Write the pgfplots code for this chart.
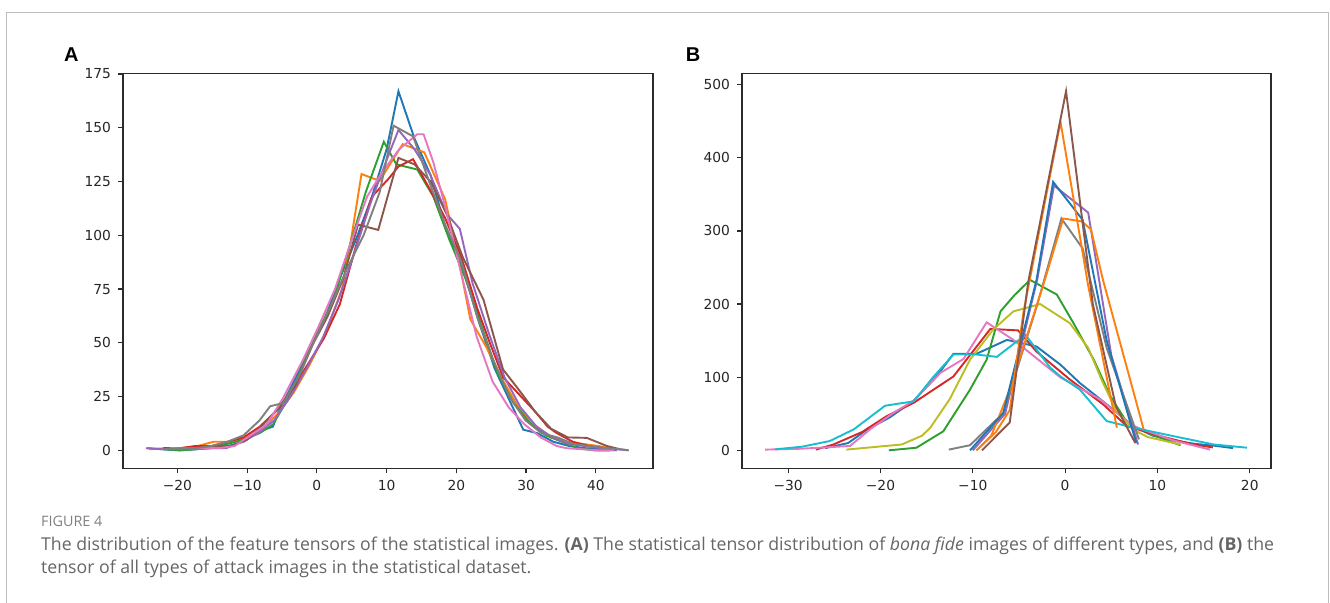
\documentclass[border=0pt]{standalone}
\usepackage{pgfplots}
\pgfplotsset{compat=1.18}
\usepackage{fontspec}
\setmainfont{Open Sans}
\newfontfamily\tickfont{DejaVu Sans}
\newfontfamily\panelfont{Liberation Sans}
\definecolor{c0}{HTML}{1F77B4}
\definecolor{c1}{HTML}{FF7F0E}
\definecolor{c2}{HTML}{2CA02C}
\definecolor{c3}{HTML}{D62728}
\definecolor{c4}{HTML}{9467BD}
\definecolor{c5}{HTML}{8C564B}
\definecolor{c6}{HTML}{E377C2}
\definecolor{c7}{HTML}{7F7F7F}
\definecolor{c8}{HTML}{BCBD22}
\definecolor{c9}{HTML}{17BECF}
\definecolor{framegray}{HTML}{BDBDBD}
\definecolor{capgray}{HTML}{666666}
\definecolor{axisdark}{HTML}{2B2B2B}

\pgfplotsset{panel/.style={
  scale only axis, anchor=north west,
  height=197.5pt,
  axis line style={axisdark, line width=0.6pt},
  tick align=outside, tick pos=left,
  major tick length=2.5pt,
  tick style={axisdark, line width=0.6pt},
  tick label style={font=\tickfont\fontsize{6.9pt}{8pt}\selectfont, text=black!85},
  every axis plot/.append style={line width=0.95pt, mark=none},
}}

\begin{document}
\begin{tikzpicture}
\useasboundingbox (0,0) rectangle (665pt,-301.5pt);
\draw[framegray, line width=0.75pt] (3.2pt,-305pt) -- (3.2pt,-6.35pt) -- (664.3pt,-6.35pt) -- (664.3pt,-305pt);

\node[anchor=west, inner sep=0, font=\panelfont\bfseries\fontsize{10pt}{12pt}\selectfont] at (31.8pt,-27.15pt) {A};
\node[anchor=west, inner sep=0, font=\panelfont\bfseries\fontsize{10pt}{12pt}\selectfont] at (342.7pt,-27.15pt) {B};

\begin{axis}[panel, at={(61.5pt,-36.65pt)}, width=265pt,
  xmin=-27.8, xmax=48.2, ymin=-8.35, ymax=175.35,
  xtick={-20,-10,0,10,20,30,40}, xticklabels={−20,−10,0,10,20,30,40},
  ytick={0,25,50,75,100,125,150,175}, yticklabels={0,25,50,75,100,125,150,175}]
\addplot[c0] coordinates {(-24.3,1) (-22,0.5) (-19.7,0) (-17.4,0.5) (-15.1,1) (-12.8,2) (-10.5,4) (-8.2,9) (-6.3,11) (-5.5,18) (-3.6,30) (-1.3,45) (1.0,60) (3.3,80) (5.6,98) (7.9,118) (10.0,140) (11.7,167) (14.0,145) (16.3,128) (18.6,102) (20.9,85) (23.2,60) (25.5,38) (27.8,22) (29.6,9.6) (31.6,8) (33.9,4) (36.2,2) (38.5,1) (40.8,0.5) (43,0)};
\addplot[c1] coordinates {(-24,0.5) (-21.7,1) (-19.4,1) (-17.1,2) (-14.8,4) (-12.5,4) (-10.2,6) (-7.9,10) (-5.6,17) (-3.3,27) (-1,40) (1.3,55) (3.6,75) (5.0,100) (6.4,128.5) (9.0,125.3) (12.3,142.4) (15.4,138.6) (18.4,116.7) (20.8,81) (22.0,61) (24.3,48) (26.6,33) (28.9,20) (31.2,12) (33.5,6) (35.8,4) (38.1,3) (40.4,2) (42.7,0.5)};
\addplot[c2] coordinates {(-22,0.5) (-19.7,0) (-17.4,0.5) (-15.1,2) (-12.8,3) (-10.5,5) (-8.2,8) (-6.3,12) (-4.5,22) (-2.2,38) (0.1,55) (2.4,70) (4.7,95) (7.0,120) (9.6,143.5) (11.4,133) (14.4,130.6) (16.7,118) (19.0,98) (21.3,80) (23.6,58) (25.9,36) (28.2,22) (30.5,13) (32.8,7) (35.1,4) (37.4,1) (39.7,0) (42.0,0)};
\addplot[c3] coordinates {(-22,1) (-19.7,1) (-17.4,2) (-15.1,2) (-12.8,4) (-10.5,6) (-8.2,11) (-5.9,18) (-3.6,28) (-1.3,40) (1.0,52) (3.3,68) (5.6,95) (7.9,118) (10.2,126) (11.7,132) (13.8,135.4) (16.1,122) (18.4,108) (20.7,90) (23.0,66) (24.8,50) (26.7,34) (29.0,26) (31.3,18) (33.1,11) (34.4,8) (36.7,4) (39.0,2) (41.3,1)};
\addplot[c4] coordinates {(-24.5,1) (-22.2,0.5) (-19.9,0.5) (-17.6,0.5) (-15.3,1) (-13.0,1) (-10.7,4) (-8.4,8) (-6.1,14) (-3.8,25) (-1.5,38) (0.8,52) (3.1,70) (5.4,92) (7.7,115) (10.0,135) (11.7,149) (14.0,140) (16.3,128) (18.6,110) (20.5,103) (22.3,78) (24.6,55) (26.9,34) (29.2,20) (31.5,11) (33.8,6) (36.1,3) (38.4,2) (40.7,1) (43.0,0.5) (44.7,0)};
\addplot[c5] coordinates {(-21.5,1) (-19.2,1) (-16.9,1) (-14.6,2) (-12.3,2) (-10.0,5) (-7.7,12) (-5.4,20) (-3.1,30) (-0.8,48) (1.5,62) (3.8,80) (5.9,105) (8.8,102.5) (11.7,136) (14.0,133) (16.3,125) (18.6,110) (20.9,90) (23.9,70) (26.7,37.6) (29.0,28) (31.3,18) (33.6,10) (36.0,6) (38.7,5.8) (41.6,2) (43.5,0.5)};
\addplot[c6] coordinates {(-21,1) (-18.7,1) (-16.4,1) (-14.1,1) (-11.8,2) (-9.5,7) (-7.2,12) (-4.9,24) (-2.0,42) (0.3,58) (2.6,75) (4.9,97) (7.2,118) (9.5,130) (11.8,140) (14.4,147) (15.3,147) (16.7,134) (18.5,112) (20.5,85) (22.9,53) (25.2,32) (27.5,20) (29.8,12) (32.1,6) (34.4,2) (35.8,1) (38.1,0.5) (40.4,0) (42.7,0)};
\addplot[c7] coordinates {(-22,0.5) (-19.7,1) (-17.4,1) (-15.1,2) (-12.8,4) (-10.5,7) (-8.2,14) (-6.7,20.5) (-4.8,22) (-2.5,35) (-0.2,52) (2.1,68) (4.4,85) (6.7,100) (9.0,120) (11.0,151) (13.8,146) (16.1,125) (18.4,105) (20.7,88) (23.0,62) (25.3,42) (27.6,25) (29.9,14) (32.2,8) (34.5,6) (36.8,3) (39.1,2) (41.4,1) (43.7,0.5) (44.7,0)};
\end{axis}

\begin{axis}[panel, at={(371pt,-36.65pt)}, width=264.5pt,
  xmin=-35, xmax=22.3, ymin=-24.55, ymax=515.5,
  xtick={-30,-20,-10,0,10,20}, xticklabels={−30,−20,−10,0,10,20},
  ytick={0,100,200,300,400,500}, yticklabels={0,100,200,300,400,500}]
% broad distributions
\addplot[c0] coordinates {(-26,3) (-23.5,10) (-21.5,28) (-19,45) (-16.4,68) (-14,100) (-12.1,132) (-9.6,132) (-6.3,151) (-3.1,142) (-0.5,117) (1.6,92) (4.1,67) (7.4,33) (9.5,20) (11.7,13.6) (14,9) (16.4,6) (18.2,3)};
\addplot[c2] coordinates {(-19.1,0) (-16.1,3.6) (-13.2,26) (-10.3,83) (-8.5,124) (-7.0,190) (-5.5,212) (-3.8,233) (-0.9,213) (0.9,174) (3.1,124) (4.9,74) (6.7,38) (8.9,24) (11.7,10.5) (12.5,7)};
\addplot[c3] coordinates {(-27,1) (-25.1,8) (-22,25) (-19.3,47) (-16.4,65) (-12.1,101) (-8.1,166) (-5.1,164) (-3.1,135) (0.5,97) (4.1,63) (6.7,33) (10.3,19.5) (13.9,8) (16,4)};
\addplot[c6] coordinates {(-32.5,1) (-29,2) (-26,4) (-23.3,6) (-21,30) (-18.5,52) (-16.4,68) (-13.5,106) (-11,125) (-8.5,175) (-5.6,151) (-4.3,138) (-0.5,99.6) (3.8,69.6) (7.4,33) (11.7,13.6) (15.7,1)};
\addplot[c8] coordinates {(-23.7,1) (-17.7,8) (-15.5,20) (-14.6,31) (-12.5,70) (-10.3,124) (-7.8,165) (-5.6,190) (-2.7,200) (0.5,174) (2.5,140) (4,95) (5.5,55) (7.4,28) (9,18) (12.5,8)};
\addplot[c9] coordinates {(-31.4,1.4) (-28.5,5) (-25.5,12.7) (-22.9,28.6) (-19.5,61) (-16.4,67) (-14.3,100) (-12.1,131) (-9.6,131) (-7.4,127.8) (-4.3,158) (-1.6,112.8) (-0.5,101) (1.6,83) (4.5,40) (7.4,31) (11.7,19.5) (16.1,8) (19.7,3.6)};
% narrow distributions
\addplot[c4] coordinates {(-10,0) (-6.5,50) (-3,235) (-1.2,362) (2.5,325) (5,130) (7.9,8)};
\addplot[c7] coordinates {(-12.6,1) (-10.3,7) (-6.7,51) (-3,200) (-0.4,317) (1.9,276) (4.5,140) (8,15)};
\addplot[c1] coordinates {(-9.6,0) (-8,20) (-6,83) (-2.2,233) (-0.2,317) (1.8,313) (2.8,302) (4.1,233) (8.5,29)};
\addplot[c0] coordinates {(-10.3,0) (-6.7,51) (-3.1,233) (-1.3,367) (1.9,315) (4.5,150) (7.7,10)};
\addplot[c1] coordinates {(-9.6,0) (-7.5,25) (-6,55) (-4.5,190) (-0.5,449) (2.5,225) (5.6,31)};
\addplot[c5] coordinates {(-9,0) (-6,38) (-4,230) (0.1,491) (3,200) (5.5,60) (7.6,10)};
\end{axis}

\node[anchor=base west, inner sep=0, text=black!50, font=\fontsize{7.2pt}{8pt}\selectfont] at (20.35pt,-263.3pt) {FIGURE 4};
\node[anchor=base west, inner sep=0, text=capgray, font=\fontsize{8.85pt}{10pt}\selectfont] at (20.35pt,-275.3pt) {The distribution of the feature tensors of the statistical images. \textbf{(A)} The statistical tensor distribution of \textit{bona fide} images of different types, and \textbf{(B)} the};
\node[anchor=base west, inner sep=0, text=capgray, font=\fontsize{8.85pt}{10pt}\selectfont] at (20.35pt,-287pt) {tensor of all types of attack images in the statistical dataset.};
\end{tikzpicture}
\end{document}
